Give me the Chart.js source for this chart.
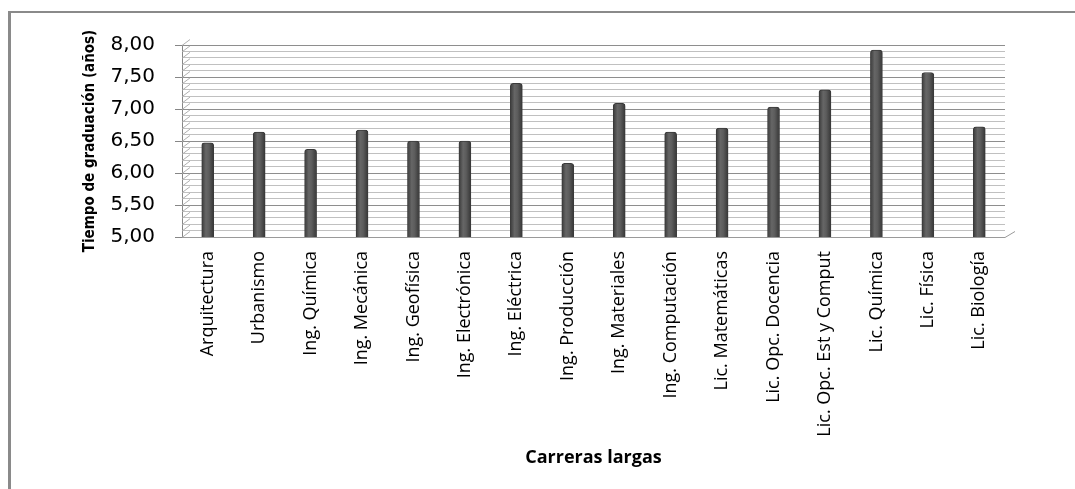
<!DOCTYPE html>
<html>
<head>
<meta charset="utf-8">
<script src="https://cdn.jsdelivr.net/npm/chart.js@4.4.1/dist/chart.umd.min.js"></script>
<style>
  html, body { margin: 0; padding: 0; background: #fff; }
  #wrap { position: relative; width: 1075px; height: 489px; }
</style>
</head>
<body>
<div id="wrap"><canvas id="grafico" width="1075" height="489"></canvas></div>
<script>
// Datos
const carreras = [
  'Arquitectura', 'Urbanismo', 'Ing. Química', 'Ing. Mecánica', 'Ing. Geofísica',
  'Ing. Electrónica', 'Ing. Eléctrica', 'Ing. Producción', 'Ing. Materiales',
  'Ing. Computación', 'Lic. Matemáticas', 'Lic. Opc. Docencia',
  'Lic. Opc. Est y Comput', 'Lic. Química', 'Lic. Física', 'Lic. Biología'
];
const tiempos = [6.47, 6.64, 6.37, 6.67, 6.50, 6.50, 7.40, 6.15, 7.09, 6.64, 6.70, 7.03, 7.30, 7.92, 7.57, 6.72];
const yMin = 5.00;
const yMax = 8.00;

const esMayor = v => Math.abs(v * 2 - Math.round(v * 2)) < 1e-6;

// marco gris (borde izquierdo y superior) + pared lateral / piso en 3D
const decoracion = {
  id: 'decoracion',
  beforeDraw(chart) {
    const c = chart.ctx;
    c.save();
    c.fillStyle = '#fff';
    c.fillRect(0, 0, chart.width, chart.height);
    c.fillStyle = '#8a8a8a';
    c.fillRect(8, 11, 3, chart.height - 11);
    c.fillRect(8, 11, chart.width - 8, 2);
    c.restore();
  },
  beforeDatasetsDraw(chart) {
    const c = chart.ctx;
    const y = chart.scales.y;
    const a = chart.chartArea;
    c.save();
    c.strokeStyle = '#b0b0b0';
    c.lineWidth = 1;
    // lineas de la pared izquierda
    y.ticks.forEach(t => {
      const py = y.getPixelForValue(t.value);
      c.beginPath();
      c.moveTo(a.left, py + 0.5);
      c.lineTo(a.left + 8, py - 5.5);
      c.stroke();
    });
    // piso
    c.strokeStyle = '#9a9a9a';
    c.beginPath();
    c.moveTo(a.left, a.bottom + 0.5);
    c.lineTo(a.right, a.bottom + 0.5);
    c.lineTo(a.right + 10, a.bottom - 5.5);
    c.stroke();
    c.restore();
  }
};

const relleno = ctx => {
  const chart = ctx.chart;
  const sx = chart.scales && chart.scales.x;
  const x = sx ? sx.getPixelForValue(ctx.dataIndex) : NaN;
  if (!isFinite(x)) return '#575757';
  const g = chart.ctx.createLinearGradient(x - 6, 0, x + 6, 0);
  g.addColorStop(0, '#3a3a3a');
  g.addColorStop(0.35, '#666666');
  g.addColorStop(0.6, '#5c5c5c');
  g.addColorStop(1, '#363636');
  return g;
};

new Chart(document.getElementById('grafico'), {
  type: 'bar',
  data: {
    labels: carreras,
    datasets: [{
      label: 'Tiempo de graduación',
      data: tiempos,
      backgroundColor: relleno,
      borderColor: '#3a3a3a',
      borderWidth: 1,
      borderSkipped: 'bottom',
      borderRadius: { topLeft: 3, topRight: 3 },
      barThickness: 12
    }]
  },
  options: {
    responsive: false,
    animation: false,
    layout: { padding: { left: 0, top: 45, right: 70, bottom: 0 } },
    plugins: { legend: { display: false }, tooltip: { enabled: false } },
    scales: {
      x: {
        grid: { display: false, drawTicks: false },
        border: { display: false },
        ticks: {
          minRotation: 90, maxRotation: 90, autoSkip: false, padding: 14,
          color: '#000',
          font: { family: 'Open Sans', size: 18 }
        },
        title: {
          display: true,
          text: 'Carreras largas',
          color: '#000',
          font: { family: 'Open Sans', size: 18, weight: 'bold' },
          padding: { top: 0, bottom: 20 }
        },
        afterFit: s => { s.height = 489 - 237; }
      },
      y: {
        min: yMin,
        max: yMax,
        grid: {
          color: c => esMayor(c.tick.value) ? '#8e8e8e' : '#c0c0c0',
          tickColor: c => esMayor(c.tick.value) ? '#868686' : 'rgba(0,0,0,0)',
          tickLength: 7
        },
        border: { display: true, color: '#868686' },
        ticks: {
          stepSize: 0.1,
          autoSkip: false,
          padding: 20,
          color: '#000',
          font: { family: 'DejaVu Sans', size: 20 },
          callback: v => esMayor(v) ? v.toFixed(2).replace('.', ',') : ''
        },
        title: {
          display: true,
          text: 'Tiempo de graduación (años)',
          color: '#000',
          font: { family: "'DejaVu Sans Condensed', Lato", size: 15, weight: 'bold' },
          padding: { top: 81, bottom: 0 }
        },
        afterFit: s => { s.width = 182; }
      }
    }
  },
  plugins: [decoracion]
});
</script>
</body>
</html>
